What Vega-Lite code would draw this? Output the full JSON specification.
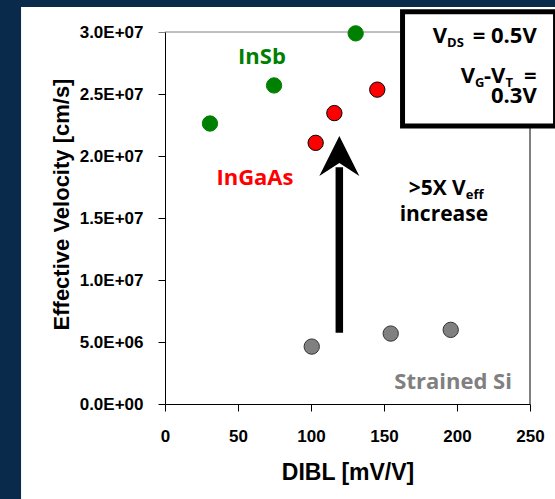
{
  "$schema": "https://vega.github.io/schema/vega-lite/v6.json",
  "width": 365,
  "height": 372,
  "autosize": {"type": "none"},
  "padding": {"left": 165, "top": 32, "right": 25, "bottom": 95},
  "background": "#0a2a4c",
  "config": {"view": {"stroke": null}},
  "layer": [
    {
      "data": {"values": [{"x": -98.6, "x2": 275, "y": 32020000, "y2": -9000000}]},
      "mark": {"type": "rect", "fill": "white"},
      "encoding": {
        "x": {"field": "x", "type": "quantitative", "scale": {"domain": [0, 250], "nice": false, "zero": false},
          "axis": {"values": [0, 50, 100, 150, 200, 250], "labelFont": "Liberation Sans", "labelFontWeight": "bold", "labelFontSize": 17, "labelColor": "black", "labelBaseline": "alphabetic", "labelPadding": 30, "labelFlush": false, "labelOverlap": false, "tickSize": 7, "tickColor": "black", "domainColor": "black", "grid": false, "title": "DIBL [mV/V]", "titleFont": "Liberation Sans", "titleFontSize": 23, "titleFontWeight": "bold", "titleColor": "black", "titleX": 182.5, "titleY": 75.5, "titleBaseline": "alphabetic", "titleAlign": "center", "zindex": 1}},
        "x2": {"field": "x2"},
        "y": {"field": "y", "type": "quantitative", "scale": {"domain": [0, 30000000], "nice": false, "zero": false},
          "axis": {"values": [0, 5000000, 10000000, 15000000, 20000000, 25000000, 30000000], "labelExpr": "replace(format(datum.value, '.1e'), 'e+', 'E+0')", "labelFont": "Liberation Sans", "labelFontWeight": "bold", "labelFontSize": 17, "labelColor": "black", "labelPadding": 15, "labelFlush": false, "labelOverlap": false, "tickSize": 7, "tickColor": {"condition": {"test": "datum.value >= 30000000", "value": "#808080"}, "value": "black"}, "domainColor": "black", "grid": false, "title": "Effective Velocity [cm/s]", "titleFont": "Liberation Sans", "titleFontSize": 22, "titleFontWeight": "bold", "titleColor": "black", "titleAngle": -90, "titleX": -104, "titleY": 172, "titleBaseline": "middle", "titleAlign": "center", "zindex": 1}},
        "y2": {"field": "y2"}
      }
    },
    {
      "data": {"values": [{"x": 0, "x2": 250, "y": 30000000}]},
      "mark": {"type": "rule", "color": "#808080", "strokeWidth": 1},
      "encoding": {
        "x": {"field": "x", "type": "quantitative"},
        "x2": {"field": "x2"},
        "y": {"field": "y", "type": "quantitative"}
      }
    },
    {
      "data": {"values": [{"x": 250, "y": 0, "y2": 30000000}]},
      "mark": {"type": "rule", "color": "black", "strokeWidth": 1},
      "encoding": {
        "x": {"field": "x", "type": "quantitative"},
        "y": {"field": "y", "type": "quantitative"},
        "y2": {"field": "y2"}
      }
    },
    {
      "data": {"values": [
        {"DIBL": 30.8, "velocity": 22620000, "material": "InSb"},
        {"DIBL": 74.7, "velocity": 25690000, "material": "InSb"},
        {"DIBL": 130.6, "velocity": 29890000, "material": "InSb"},
        {"DIBL": 103.2, "velocity": 21060000, "material": "InGaAs"},
        {"DIBL": 116.0, "velocity": 23460000, "material": "InGaAs"},
        {"DIBL": 145.4, "velocity": 25350000, "material": "InGaAs"},
        {"DIBL": 100.5, "velocity": 4630000, "material": "Strained Si"},
        {"DIBL": 154.6, "velocity": 5680000, "material": "Strained Si"},
        {"DIBL": 195.7, "velocity": 5980000, "material": "Strained Si"}
      ]},
      "mark": {"type": "circle", "size": 235, "opacity": 1, "strokeWidth": 1},
      "encoding": {
        "x": {"field": "DIBL", "type": "quantitative"},
        "y": {"field": "velocity", "type": "quantitative"},
        "color": {"field": "material", "type": "nominal", "scale": {"domain": ["InSb", "InGaAs", "Strained Si"], "range": ["#008000", "#ff0000", "#808080"]}, "legend": null},
        "stroke": {"field": "material", "type": "nominal", "scale": {"domain": ["InSb", "InGaAs", "Strained Si"], "range": ["#008000", "#000000", "#333333"]}, "legend": null}
      }
    },
    {
      "data": {"values": [{"x": 119.4, "y": 5740000, "y2": 19100000}]},
      "mark": {"type": "rule", "color": "black", "strokeWidth": 7.5, "strokeCap": "butt"},
      "encoding": {
        "x": {"field": "x", "type": "quantitative"},
        "y": {"field": "y", "type": "quantitative"},
        "y2": {"field": "y2"}
      }
    },
    {
      "data": {"values": [{"x": 119.4, "y": 20000000}]},
      "mark": {"type": "point", "shape": "M0,-1L1,1L0,0.35L-1,1Z", "size": 1600, "filled": true, "color": "black", "opacity": 1},
      "encoding": {
        "x": {"field": "x", "type": "quantitative"},
        "y": {"field": "y", "type": "quantitative"}
      }
    },
    {
      "data": {"values": [{"x": 162.7, "x2": 267.5, "y": 22420000, "y2": 31630000}]},
      "mark": {"type": "rect", "fill": "white", "stroke": "black", "strokeWidth": 5},
      "encoding": {
        "x": {"field": "x", "type": "quantitative"},
        "x2": {"field": "x2"},
        "y": {"field": "y", "type": "quantitative"},
        "y2": {"field": "y2"}
      }
    },
    {
      "data": {"values": [
        {"x": 66.4, "y": 27390000, "text": "InSb", "material": "InSb"},
        {"x": 61.6, "y": 17640000, "text": "InGaAs", "material": "InGaAs"},
        {"x": 197.3, "y": 1190000, "text": "Strained Si", "material": "Strained Si"}
      ]},
      "mark": {"type": "text", "font": "Open Sans", "fontWeight": "bold", "fontSize": 22, "align": "center", "baseline": "alphabetic"},
      "encoding": {
        "x": {"field": "x", "type": "quantitative"},
        "y": {"field": "y", "type": "quantitative"},
        "text": {"field": "text"},
        "color": {"field": "material", "type": "nominal", "legend": null}
      }
    },
    {
      "data": {"values": [
        {"x": 193.2, "y": 29140000, "text": "V"},
        {"x": 254.6, "y": 29140000, "text": "= 0.5V"},
        {"x": 212.3, "y": 25910000, "text": "V"},
        {"x": 254.6, "y": 25910000, "text": "="},
        {"x": 254.6, "y": 24240000, "text": "0.3V"}
      ]},
      "mark": {"type": "text", "font": "Open Sans", "fontWeight": "bold", "fontSize": 22, "align": "right", "baseline": "alphabetic", "color": "black"},
      "encoding": {
        "x": {"field": "x", "type": "quantitative"},
        "y": {"field": "y", "type": "quantitative"},
        "text": {"field": "text"}
      }
    },
    {
      "data": {"values": [{"x": 218.5, "y": 25910000, "text": "-V"}]},
      "mark": {"type": "text", "font": "Open Sans", "fontWeight": "bold", "fontSize": 22, "align": "left", "baseline": "alphabetic", "color": "black"},
      "encoding": {
        "x": {"field": "x", "type": "quantitative"},
        "y": {"field": "y", "type": "quantitative"},
        "text": {"field": "text"}
      }
    },
    {
      "data": {"values": [{"x": 206, "y": 16890000, "text": ">5X V"}]},
      "mark": {"type": "text", "font": "Open Sans", "fontWeight": "bold", "fontSize": 21, "align": "right", "baseline": "alphabetic", "color": "black"},
      "encoding": {
        "x": {"field": "x", "type": "quantitative"},
        "y": {"field": "y", "type": "quantitative"},
        "text": {"field": "text"}
      }
    },
    {
      "data": {"values": [{"x": 191, "y": 14730000, "text": "increase"}]},
      "mark": {"type": "text", "font": "Open Sans", "fontWeight": "bold", "fontSize": 21, "align": "center", "baseline": "alphabetic", "color": "black"},
      "encoding": {
        "x": {"field": "x", "type": "quantitative"},
        "y": {"field": "y", "type": "quantitative"},
        "text": {"field": "text"}
      }
    },
    {
      "data": {"values": [
        {"x": 193.2, "y": 28790000, "text": "DS"},
        {"x": 212.3, "y": 25560000, "text": "G"},
        {"x": 233.3, "y": 25560000, "text": "T"},
        {"x": 206, "y": 16540000, "text": "eff"}
      ]},
      "mark": {"type": "text", "font": "Open Sans", "fontWeight": "bold", "fontSize": 13, "align": "left", "baseline": "alphabetic", "color": "black"},
      "encoding": {
        "x": {"field": "x", "type": "quantitative"},
        "y": {"field": "y", "type": "quantitative"},
        "text": {"field": "text"}
      }
    }
  ]
}
